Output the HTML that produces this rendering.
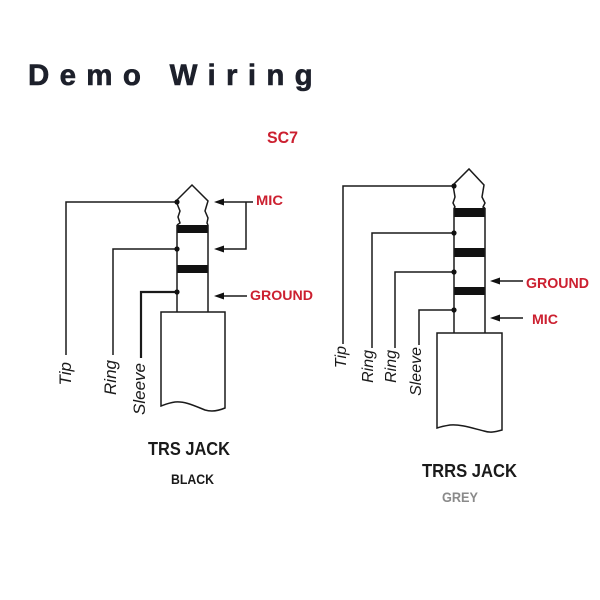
<!DOCTYPE html>
<html>
<head>
<meta charset="utf-8">
<style>
  html,body{margin:0;padding:0;background:#fff;}
  svg{display:block;}
  .w{stroke:#1a1a1a;stroke-width:1.5;fill:none;}
  .lbl{font-family:"Liberation Sans",sans-serif;font-style:italic;fill:#1a1a1a;}
  .red{font-family:"Liberation Sans",sans-serif;font-weight:bold;fill:#cc2030;}
  .blk{font-family:"Liberation Sans",sans-serif;font-weight:bold;fill:#1a1a1a;}
</style>
</head>
<body>
<svg width="600" height="600" viewBox="0 0 600 600" xmlns="http://www.w3.org/2000/svg">
  <rect width="600" height="600" fill="#fff"/>

  <!-- Title -->
  <text x="28" y="85" font-family="Liberation Sans, sans-serif" font-weight="bold" font-size="29.5" letter-spacing="10.3" fill="#1d202b" stroke="#1d202b" stroke-width="0.6">Demo Wiring</text>
  <text x="267" y="143" class="red" font-size="17" textLength="31" lengthAdjust="spacingAndGlyphs">SC7</text>

  <!-- ============ LEFT TRS JACK ============ -->
  <path class="w" d="M177,225 L180,223 L178,217 L180,211 L176,201 L192,185 L208,201 L205,211 L208,218 L207,223 L208,225"/>
  <rect x="177" y="225" width="31" height="8" fill="#111"/>
  <rect x="177" y="265" width="31" height="8" fill="#111"/>
  <line class="w" x1="177" y1="225" x2="177" y2="312"/>
  <line class="w" x1="208" y1="225" x2="208" y2="312"/>
  <path class="w" d="M161,406 L161,312 L225,312 L225,408 C218,411 212,412 205,410 C195,406 185,401 175,402 C168,403 164,405 161,406 Z"/>
  <polyline class="w" points="177,202 66,202 66,355"/>
  <polyline class="w" points="177,249 113,249 113,355"/>
  <polyline class="w" style="stroke-width:2.2" points="177,292 141,292 141,358"/>
  <circle cx="177" cy="202" r="2.6" fill="#111"/>
  <circle cx="177" cy="249" r="2.6" fill="#111"/>
  <circle cx="177" cy="292" r="2.6" fill="#111"/>
  <polyline class="w" points="222,202 253,202"/>
  <polyline class="w" points="246,202 246,249 222,249"/>
  <line class="w" x1="222" y1="296" x2="247" y2="296"/>
  <polygon points="214,202 224,198.5 224,205.5" fill="#111"/>
  <polygon points="214,249 224,245.5 224,252.5" fill="#111"/>
  <polygon points="214,296 224,292.5 224,299.5" fill="#111"/>
  <text x="256" y="205" class="red" font-size="13.5" textLength="27" lengthAdjust="spacingAndGlyphs">MIC</text>
  <text x="250" y="300" class="red" font-size="14" textLength="63" lengthAdjust="spacingAndGlyphs">GROUND</text>
  <text class="lbl" font-size="17" text-anchor="end" transform="translate(71,362) rotate(-90)">Tip</text>
  <text class="lbl" font-size="17" text-anchor="end" transform="translate(116,360) rotate(-90)">Ring</text>
  <text class="lbl" font-size="17" text-anchor="end" transform="translate(145,363) rotate(-90)">Sleeve</text>
  <text x="148" y="455" class="blk" font-size="18" textLength="82" lengthAdjust="spacingAndGlyphs">TRS JACK</text>
  <text x="171" y="484" class="blk" font-size="13.5" textLength="43" lengthAdjust="spacingAndGlyphs">BLACK</text>

  <!-- ============ RIGHT TRRS JACK ============ -->
  <path class="w" d="M454,208 L455,207 L453,203 L455,197 L453,185 L469,169 L484,185 L482,197 L485,203 L483,207 L485,208"/>
  <rect x="454" y="208" width="31" height="9" fill="#111"/>
  <rect x="454" y="248" width="31" height="9" fill="#111"/>
  <rect x="454" y="287" width="31" height="8" fill="#111"/>
  <line class="w" x1="454" y1="208" x2="454" y2="333"/>
  <line class="w" x1="485" y1="208" x2="485" y2="333"/>
  <path class="w" d="M437,428 L437,333 L502,333 L502,430 C495,432 490,433 484,431 C472,428 460,424 450,425 C444,426 440,427 437,428 Z"/>
  <polyline class="w" points="454,186 343,186 343,344"/>
  <polyline class="w" points="454,233 372,233 372,348"/>
  <polyline class="w" points="454,272 395,272 395,348"/>
  <polyline class="w" points="454,310 419,310 419,345"/>
  <circle cx="454" cy="186" r="2.6" fill="#111"/>
  <circle cx="454" cy="233" r="2.6" fill="#111"/>
  <circle cx="454" cy="272" r="2.6" fill="#111"/>
  <circle cx="454" cy="310" r="2.6" fill="#111"/>
  <line class="w" x1="498" y1="281" x2="523" y2="281"/>
  <line class="w" x1="498" y1="318" x2="523" y2="318"/>
  <polygon points="490,281 500,277.5 500,284.5" fill="#111"/>
  <polygon points="490,318 500,314.5 500,321.5" fill="#111"/>
  <text x="526" y="288" class="red" font-size="15" textLength="63" lengthAdjust="spacingAndGlyphs">GROUND</text>
  <text x="532" y="324" class="red" font-size="14" textLength="26" lengthAdjust="spacingAndGlyphs">MIC</text>
  <text class="lbl" font-size="16" text-anchor="end" transform="translate(346,346) rotate(-90)">Tip</text>
  <text class="lbl" font-size="16" text-anchor="end" transform="translate(373,350) rotate(-90)">Ring</text>
  <text class="lbl" font-size="16" text-anchor="end" transform="translate(396,350) rotate(-90)">Ring</text>
  <text class="lbl" font-size="16" text-anchor="end" transform="translate(421,347) rotate(-90)">Sleeve</text>
  <text x="422" y="477" class="blk" font-size="18" textLength="95" lengthAdjust="spacingAndGlyphs">TRRS JACK</text>
  <text x="442" y="502" font-family="Liberation Sans, sans-serif" font-weight="bold" font-size="14" fill="#8a8a8a" textLength="36" lengthAdjust="spacingAndGlyphs">GREY</text>
</svg>
</body>
</html>
